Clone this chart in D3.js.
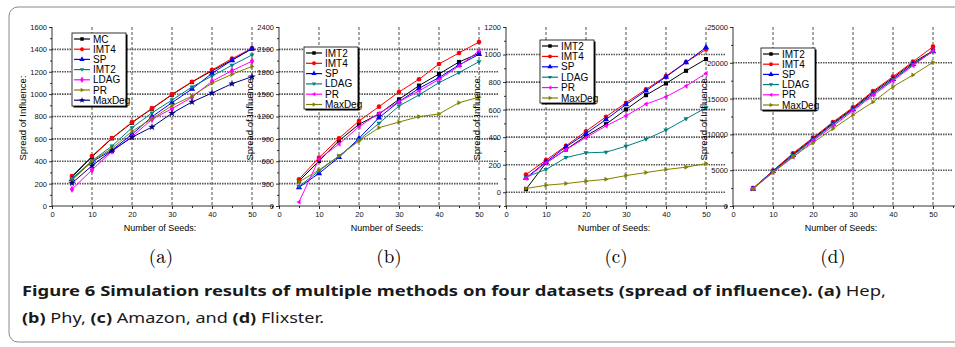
<!DOCTYPE html>
<html>
<head>
<meta charset="utf-8">
<script src="https://cdn.jsdelivr.net/npm/d3@7"></script>
<style>
  body { margin: 0; background: #fff; }
  svg { display: block; }
  .tick text { font-family: "Liberation Sans", Arial, sans-serif; }
</style>
</head>
<body>
<div id="app"></div>
<script>
const width = 955;
const height = 347;

// x values shared by all panels
const seeds = [5, 10, 15, 20, 25, 30, 35, 40, 45, 50];

// (a) Hep
const hepNames = ["MC", "IMT4", "SP", "IMT2", "LDAG", "PR", "MaxDeg"];
const hepMC = [258, 440, 605, 745, 870, 995, 1108, 1208, 1305, 1405];
const hepIMT4 = [268, 447, 608, 748, 873, 998, 1111, 1216, 1317, 1410];
const hepSP = [240, 395, 500, 641, 798, 924, 1046, 1186, 1302, 1408];
const hepIMT2 = [245, 405, 536, 700, 832, 947, 1064, 1162, 1258, 1350];
const hepLDAG = [150, 322, 490, 620, 775, 870, 972, 1115, 1210, 1294];
const hepPR = [230, 400, 515, 668, 780, 897, 983, 1097, 1177, 1248];
const hepMaxDeg = [205, 360, 495, 614, 706, 829, 930, 1010, 1093, 1156];
const hepTicks = [0, 200, 400, 600, 800, 1000, 1200, 1400, 1600];

// (b) Phy
const otherNames = ["IMT2", "IMT4", "SP", "LDAG", "PR", "MaxDeg"];
const phyIMT2 = [335, 603, 876, 1095, 1234, 1430, 1614, 1770, 1931, 2047];
const phyIMT4 = [358, 648, 907, 1140, 1332, 1529, 1699, 1904, 2052, 2199];
const phySP = [250, 438, 653, 907, 1185, 1399, 1578, 1721, 1891, 2034];
const phyLDAG = [262, 470, 670, 885, 1109, 1341, 1489, 1654, 1788, 1935];
const phyPR = [54, 630, 831, 1064, 1243, 1399, 1542, 1699, 1877, 2079];
const phyMaxDeg = [322, 483, 670, 872, 1050, 1126, 1198, 1234, 1385, 1458];
const phyTicks = [0, 300, 600, 900, 1200, 1500, 1800, 2100, 2400];

// (c) Amazon
const amzIMT2 = [22, 213, 310, 409, 494, 601, 705, 790, 882, 967];
const amzIMT4 = [128, 233, 337, 443, 548, 650, 747, 843, 945, 1037];
const amzSP = [104, 220, 330, 426, 528, 637, 737, 838, 943, 1052];
const amzLDAG = [110, 165, 252, 286, 291, 334, 385, 451, 533, 613];
const amzPR = [100, 213, 310, 397, 482, 555, 640, 693, 771, 863];
const amzMaxDeg = [27, 51, 63, 80, 94, 121, 143, 165, 182, 208];
const amzTicks = [0, 200, 400, 600, 800, 1000, 1200];

// (d) Flixster
const flxIMT2 = [2450, 4900, 7250, 9450, 11600, 13650, 15900, 17900, 20000, 21700];
const flxIMT4 = [2470, 4930, 7360, 9540, 11730, 13780, 16060, 18060, 20160, 22250];
const flxSP = [2400, 4850, 7100, 9300, 11450, 13500, 15700, 17700, 19800, 21600];
const flxLDAG = [2400, 4800, 7050, 9250, 11400, 13450, 15650, 17650, 19750, 21600];
const flxPR = [2450, 4700, 6800, 9100, 11170, 13300, 15460, 17500, 19600, 21690];
const flxMaxDeg = [2370, 4700, 6890, 8840, 10800, 12710, 14520, 16660, 18300, 20070];
const flxTicks = [0, 5000, 10000, 15000, 20000, 25000];

const xTicks = [0, 10, 20, 30, 40, 50];
const xMinor = [5, 15, 25, 35, 45, 55];

// marker shapes
const triDown = { draw(ctx, size) { const s = Math.sqrt(size) * 0.62; ctx.moveTo(-s, -s * 0.6); ctx.lineTo(s, -s * 0.6); ctx.lineTo(0, s); ctx.closePath(); } };
const triLeft = { draw(ctx, size) { const s = Math.sqrt(size) * 0.62; ctx.moveTo(s * 0.6, -s); ctx.lineTo(s * 0.6, s); ctx.lineTo(-s, 0); ctx.closePath(); } };
const triRight = { draw(ctx, size) { const s = Math.sqrt(size) * 0.62; ctx.moveTo(-s * 0.6, -s); ctx.lineTo(-s * 0.6, s); ctx.lineTo(s, 0); ctx.closePath(); } };

const hepStyle = [
  { color: "#000000", shape: d3.symbolSquare },
  { color: "#ff0000", shape: d3.symbolCircle },
  { color: "#0000ff", shape: d3.symbolTriangle },
  { color: "#008080", shape: triDown },
  { color: "#ff00ff", shape: d3.symbolDiamond },
  { color: "#808000", shape: triRight },
  { color: "#000080", shape: d3.symbolStar },
];
const otherStyle = [
  { color: "#000000", shape: d3.symbolSquare },
  { color: "#ff0000", shape: d3.symbolCircle },
  { color: "#0000ff", shape: d3.symbolTriangle },
  { color: "#008080", shape: triDown },
  { color: "#ff00ff", shape: triLeft },
  { color: "#808000", shape: triRight },
];

const panels = [
  { x0: 52, domain: [0, 1600], ticks: hepTicks, names: hepNames, style: hepStyle,
    series: [hepMC, hepIMT4, hepSP, hepIMT2, hepLDAG, hepPR, hepMaxDeg],
    legend: { x: 72, y: 33, w: 54, h: 73, step: 10.2 }, label: "(a)", labelX: 161 },
  { x0: 279, domain: [0, 2400], ticks: phyTicks, names: otherNames, style: otherStyle,
    series: [phyIMT2, phyIMT4, phySP, phyLDAG, phyPR, phyMaxDeg],
    legend: { x: 304, y: 47, w: 54, h: 62, step: 10.3 }, label: "(b)", labelX: 389 },
  { x0: 506, domain: [-100, 1200], ticks: amzTicks, names: otherNames, style: otherStyle,
    series: [amzIMT2, amzIMT4, amzSP, amzLDAG, amzPR, amzMaxDeg],
    legend: { x: 540, y: 40, w: 54, h: 63, step: 10.4 }, label: "(c)", labelX: 616 },
  { x0: 733, domain: [0, 25000], ticks: flxTicks, names: otherNames, style: otherStyle,
    series: [flxIMT2, flxIMT4, flxSP, flxLDAG, flxPR, flxMaxDeg],
    legend: { x: 761, y: 48, w: 54, h: 62, step: 10.2 }, label: "(d)", labelX: 833 },
];

const plotTop = 27, plotBottom = 206, plotW = 220;

const svg = d3.select("#app").append("svg")
  .attr("width", width).attr("height", height)
  .attr("viewBox", `0 0 ${width} ${height}`);

// outer frame of the figure box
svg.append("rect")
  .attr("x", 9).attr("y", 7)
  .attr("width", width + 20).attr("height", 335)
  .attr("rx", 9)
  .attr("fill", "none")
  .attr("stroke", "#8a8a8a")
  .attr("stroke-width", 1);

panels.forEach((p) => {
  const x = d3.scaleLinear().domain([0, 55]).range([p.x0, p.x0 + plotW]);
  const y = d3.scaleLinear().domain(p.domain).range([plotBottom, plotTop]);
  const g = svg.append("g");

  const step = p.ticks[1] - p.ticks[0];
  const minor = d3.range(p.domain[0], p.domain[1], step / 2)
    .filter((v) => !p.ticks.includes(v));

  // grid lines
  g.append("g").selectAll("line")
    .data(xTicks.filter((d) => d > 0))
    .join("line")
    .attr("x1", (d) => x(d)).attr("x2", (d) => x(d))
    .attr("y1", plotTop).attr("y2", plotBottom)
    .attr("stroke", "#222").attr("stroke-width", 0.8)
    .attr("stroke-dasharray", "3,2");

  g.append("g").selectAll("line")
    .data(p.ticks.filter((d) => y(d) < plotBottom - 1 && y(d) > plotTop + 1))
    .join("line")
    .attr("x1", p.x0).attr("x2", p.x0 + plotW)
    .attr("y1", (d) => y(d)).attr("y2", (d) => y(d))
    .attr("stroke", "#555").attr("stroke-width", 1.6)
    .attr("stroke-dasharray", "1.5,1");

  // axes
  const yAxis = g.append("g").attr("transform", `translate(${p.x0},0)`)
    .call(d3.axisLeft(y).tickValues(p.ticks).tickSize(3).tickPadding(2).tickFormat(d3.format("d")));
  g.append("g").attr("transform", `translate(${p.x0},0)`)
    .call(d3.axisLeft(y).tickValues(minor).tickSize(2).tickFormat(""))
    .select(".domain").remove();
  const xAxis = g.append("g").attr("transform", `translate(0,${plotBottom})`)
    .call(d3.axisBottom(x).tickValues(xTicks).tickSize(3).tickPadding(3));
  g.append("g").attr("transform", `translate(0,${plotBottom})`)
    .call(d3.axisBottom(x).tickValues(xMinor).tickSize(2).tickFormat(""))
    .select(".domain").remove();

  yAxis.select(".domain").attr("d", `M0,${plotTop}V${plotBottom}`);
  xAxis.select(".domain").attr("d", `M${p.x0},0H${p.x0 + plotW + 2}`);
  g.selectAll(".tick text").style("font-size", "7.5px").attr("fill", "#111");
  g.selectAll(".domain, .tick line").attr("stroke", "#000").attr("stroke-width", 0.8);

  // axis titles
  g.append("text")
    .attr("x", p.x0 + 108).attr("y", 231)
    .attr("text-anchor", "middle")
    .style("font-family", "Liberation Sans, Arial, sans-serif")
    .style("font-size", "9px")
    .text("Number of Seeds:");
  g.append("text")
    .attr("transform", `translate(${p.x0 - 26},118) rotate(-90)`)
    .attr("text-anchor", "middle")
    .style("font-family", "Liberation Sans, Arial, sans-serif")
    .style("font-size", "9.5px")
    .text("Spread of Influence:");

  // series
  const line = d3.line().x((d, i) => x(seeds[i])).y((d) => y(d));
  p.series.forEach((vals, si) => {
    const st = p.style[si];
    g.append("path").datum(vals)
      .attr("d", line)
      .attr("fill", "none")
      .attr("stroke", st.color)
      .attr("stroke-width", 1);
    g.append("g").selectAll("path")
      .data(vals)
      .join("path")
      .attr("transform", (d, i) => `translate(${x(seeds[i])},${y(d)})`)
      .attr("d", d3.symbol(st.shape, 17))
      .attr("fill", st.color);
  });

  // legend
  const L = p.legend;
  const lg = g.append("g");
  lg.append("rect")
    .attr("x", L.x + 1.5).attr("y", L.y + 1.5)
    .attr("width", L.w).attr("height", L.h)
    .attr("fill", "#000");
  lg.append("rect")
    .attr("x", L.x).attr("y", L.y)
    .attr("width", L.w).attr("height", L.h)
    .attr("fill", "#fff").attr("stroke", "#000").attr("stroke-width", 0.8);
  p.names.forEach((name, i) => {
    const cy = L.y + 6 + i * L.step;
    const st = p.style[i];
    lg.append("line")
      .attr("x1", L.x + 2).attr("x2", L.x + 18)
      .attr("y1", cy).attr("y2", cy)
      .attr("stroke", st.color).attr("stroke-width", 1.2);
    lg.append("path")
      .attr("transform", `translate(${L.x + 10},${cy})`)
      .attr("d", d3.symbol(st.shape, 12))
      .attr("fill", st.color);
    lg.append("text")
      .attr("x", L.x + 21).attr("y", cy + 3.5)
      .style("font-family", "Liberation Sans, Arial, sans-serif")
      .style("font-size", "10px")
      .text(name);
  });

  // sub-figure label
  svg.append("text")
    .attr("x", p.labelX).attr("y", 263)
    .attr("text-anchor", "middle")
    .style("font-family", "Latin Modern Roman, DejaVu Serif, Liberation Serif, serif")
    .style("font-size", "19px")
    .text(p.label);
});

// caption
const cap = svg.append("g")
  .style("font-family", "'Noto Sans', 'Open Sans', sans-serif")
  .style("font-size", "15px")
  .attr("fill", "#1a1a1a");

const line1 = cap.append("text").attr("x", 22).attr("y", 296)
  .attr("textLength", 864).attr("lengthAdjust", "spacingAndGlyphs");
line1.append("tspan").style("font-weight", "bold")
  .text("Figure 6 Simulation results of multiple methods on four datasets (spread of influence). (a)");
line1.append("tspan").text(" Hep,");

const line2 = cap.append("text").attr("x", 22).attr("y", 323)
  .attr("textLength", 302).attr("lengthAdjust", "spacingAndGlyphs");
line2.append("tspan").style("font-weight", "bold").text("(b)");
line2.append("tspan").text(" Phy, ");
line2.append("tspan").style("font-weight", "bold").text("(c)");
line2.append("tspan").text(" Amazon, and ");
line2.append("tspan").style("font-weight", "bold").text("(d)");
line2.append("tspan").text(" Flixster.");
</script>
</body>
</html>
